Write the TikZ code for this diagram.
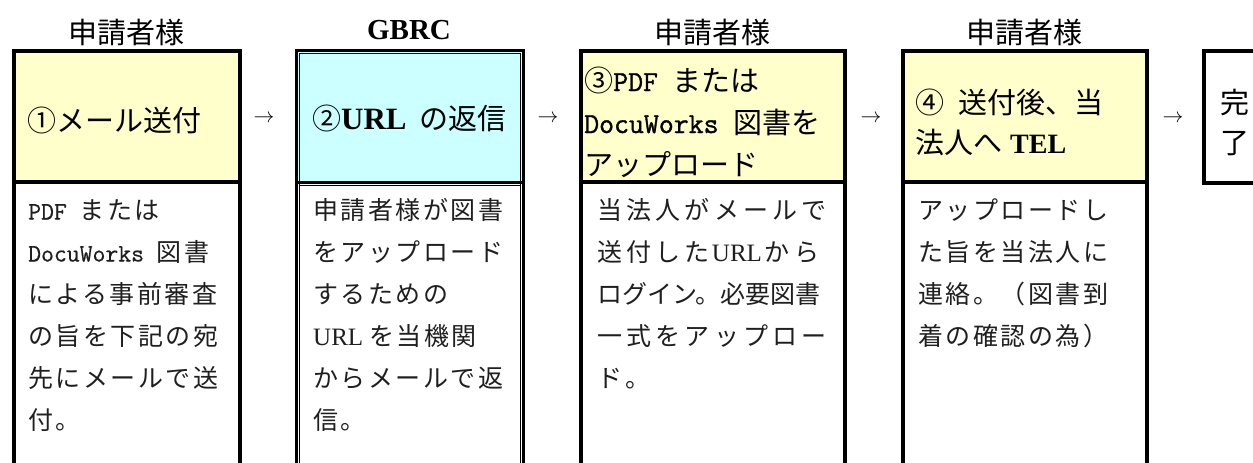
\documentclass[tikz,border=0pt]{standalone}
\usepackage{fontspec}
\newfontfamily\jp{Noto Sans CJK JP}
\newfontfamily\jpa[LetterSpace=10]{Noto Sans CJK JP}
\newfontfamily\jpb[LetterSpace=17]{Noto Sans CJK JP}
\newfontfamily\ser{Liberation Serif}
\newfontfamily\monot[FakeBold=1.2]{Latin Modern Mono}
\newfontfamily\monob[FakeBold=0.6]{Latin Modern Mono}
\newcommand\setfs[1]{\fontsize{#1}{#1}\selectfont}
\definecolor{yel}{HTML}{FFFFCC}
\definecolor{cya}{HTML}{CCFFFF}
\tikzset{
  boxthick/.style={draw=black, line width=4pt, rectangle, inner sep=0pt, outer sep=0pt},
  boxdbl/.style={draw=black, line width=3pt, rectangle, inner sep=0pt, outer sep=0pt},
  thinln/.style={draw=black, line width=1pt},
  hdr/.style={font=\jp\setfs{29}, inner sep=0pt},
  hdrb/.style={font=\ser\bfseries\setfs{29}, inner sep=0pt},
  arr/.style={font=\setfs{22}, inner sep=0pt},
  ttl/.style={anchor=base west, inner sep=0pt, font=\setfs{29}},
  bod/.style={anchor=base west, inner sep=0pt, font=\setfs{25}, text=black!88},
}
\begin{document}
\begin{tikzpicture}[x=1pt,y=1pt]
\useasboundingbox (0,0) rectangle (1253,-463);
\clip (0,0) rectangle (1253,-463);
\fill[white] (0,0) rectangle (1253,-463);

% headers
\node[hdr]  (h1) at (126,-32) {申請者様};
\node[hdrb] (h2) at (409,-30) {GBRC};
\node[hdr]  (h3) at (712,-32) {申請者様};
\node[hdr]  (h4) at (1024,-32) {申請者様};

% box 1
\node[boxthick, fill=white, minimum width=225.5pt, minimum height=298pt] (b1) at (126.75,-331) {};
\node[boxthick, fill=yel, minimum width=225.5pt, minimum height=131pt] (t1) at (126.75,-116.5) {};

% box 2 (double border)
\node[boxdbl, fill=white, minimum width=227.5pt, minimum height=297.5pt] (b2) at (409.75,-331.25) {};
\node[boxdbl, fill=cya, minimum width=227.5pt, minimum height=132.5pt] (t2) at (409.75,-116.25) {};
\draw[thinln] ([xshift=3.2pt,yshift=-3.2pt]t2.north west) -- ([xshift=-3pt,yshift=-3.2pt]t2.north east);
\draw[thinln] ([xshift=3.2pt,yshift=-3.2pt]t2.north west) -- ([xshift=3.2pt]b2.south west);
\draw[thinln] ([xshift=-3pt,yshift=-3.2pt]t2.north east) -- ([xshift=-3pt]b2.south east);
\draw[thinln] ([xshift=3.2pt,yshift=-2.5pt]b2.north west) -- ([xshift=-3pt,yshift=-2.5pt]b2.north east);

% box 3
\node[boxthick, fill=white, minimum width=264.5pt, minimum height=298pt] (b3) at (712.75,-331) {};
\node[boxthick, fill=yel, minimum width=264.5pt, minimum height=131pt] (t3) at (712.75,-116.5) {};

% box 4
\node[boxthick, fill=white, minimum width=243.7pt, minimum height=298pt] (b4) at (1024.85,-331) {};
\node[boxthick, fill=yel, minimum width=243.7pt, minimum height=131pt] (t4) at (1024.85,-116.5) {};

% box 5
\node[boxthick, fill=white, minimum width=65.7pt, minimum height=131.7pt] (t5) at (1237.15,-116.85) {};

% arrows (text characters)
\node[arr] (a1) at (264,-119) {$\rightarrow$};
\node[arr] (a2) at (548,-119) {$\rightarrow$};
\node[arr] (a3) at (871,-119) {$\rightarrow$};
\node[arr] (a4) at (1173,-119) {$\rightarrow$};

% titles
\node[ttl] (s1) at (27,-131) {\jp ①メール送付};
\node[ttl] (s2) at (312,-129) {{\jp ②}{\ser\bfseries\setfs{31}URL}\hspace{13pt}{\jp の返信}};
\node[ttl] (s3a) at (584,-91) {{\jp ③}{\monot PDF }{\jp または}};
\node[ttl] (s3b) at (584,-133) {{\monot DocuWorks }{\jp 図書を}};
\node[ttl] (s3c) at (584,-175) {\jp アップロード};
\node[ttl] (s4a) at (915,-113) {\jp ④\hspace{0.5em}送付後、当};
\node[ttl] (s4b) at (915,-153) {{\jp 法人へ}\hspace{8pt}{\ser\bfseries\setfs{28}TEL}};
\node[ttl] (s5a) at (1220,-113) {\jp 完};
\node[ttl] (s5b) at (1220,-153) {\jp 了};

% body box 1
\node[bod] (p11) at (28,-219.5) {{\monob PDF }{\jpa または}};
\node[bod] (p12) at (28,-261.5) {{\monob DocuWorks }{\jpa 図書}};
\node[bod] (p13) at (28,-303.5) {\jpa による事前審査};
\node[bod] (p14) at (28,-345.5) {\jpa の旨を下記の宛};
\node[bod] (p15) at (28,-387.5) {\jpa 先にメールで送};
\node[bod] (p16) at (28,-429.5) {\jpa 付。};

% body box 2
\node[bod] (p21) at (313,-219.5) {\jpa 申請者様が図書};
\node[bod] (p22) at (313,-261.5) {\jpa をアップロード};
\node[bod] (p23) at (313,-303.5) {\jpa するための};
\node[bod] (p24) at (313,-345.5) {{\ser URL }{\jpa を当機関}};
\node[bod] (p25) at (313,-387.5) {\jpa からメールで返};
\node[bod] (p26) at (313,-429.5) {\jpa 信。};

% body box 3
\node[bod] (p31) at (597,-219.5) {\jpb 当法人がメールで};
\node[bod] (p32) at (597,-261.5) {{\jpb 送付した}\kern2pt{\ser URL}\kern3pt{\jpb から}};
\node[bod] (p33) at (597,-303.5) {\jp ログイン。必要図書};
\node[bod] (p34) at (597,-345.5) {\jpb 一式をアップロー};
\node[bod] (p35) at (597,-387.5) {\jpb ド。};

% body box 4
\node[bod] (p41) at (918,-219.5) {\jpa アップロードし};
\node[bod] (p42) at (918,-261.5) {\jpa た旨を当法人に};
\node[bod] (p43) at (918,-303.5) {\jpa 連絡。（図書到};
\node[bod] (p44) at (918,-345.5) {\jpa 着の確認の為）};
\end{tikzpicture}
\end{document}
